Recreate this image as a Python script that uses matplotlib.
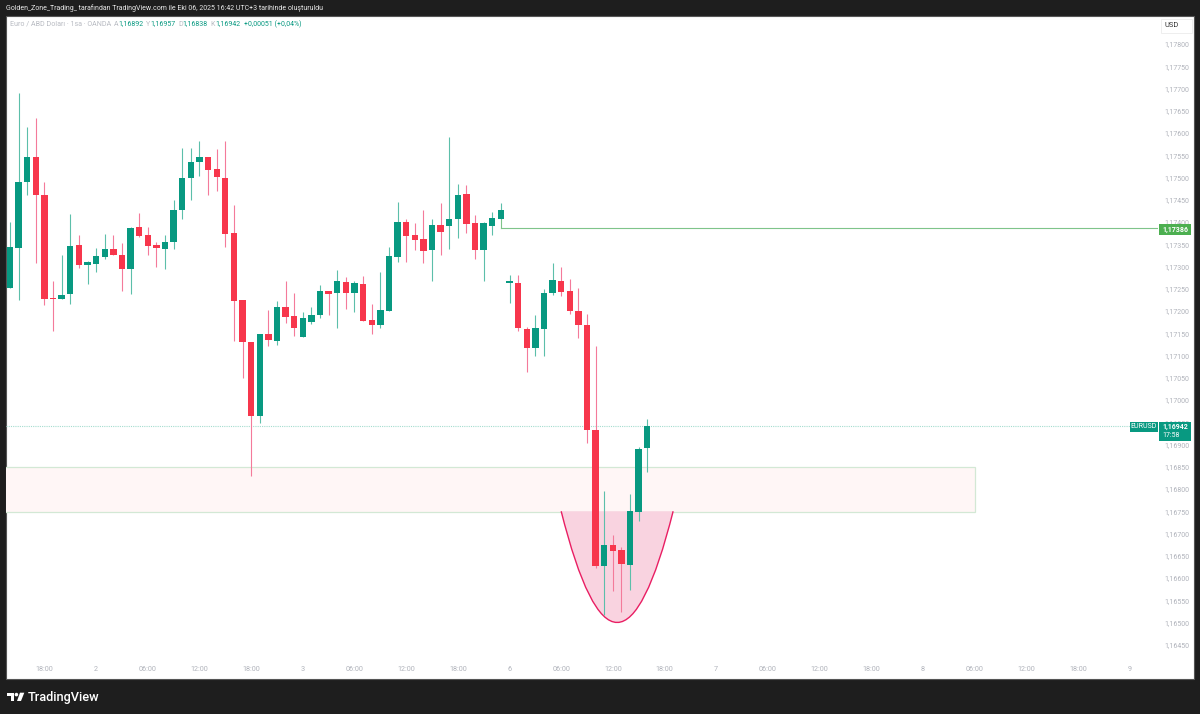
#!/usr/bin/env python3
"""EUR/USD 1h candles, TradingView snapshot"""

import matplotlib
matplotlib.use('Agg')
import matplotlib.pyplot as plt
from matplotlib.patches import Rectangle, PathPatch, Polygon, Circle
from matplotlib.path import Path
from matplotlib.transforms import Affine2D

plt.rcParams['font.family'] = ['Roboto', 'DejaVu Sans']

# OHLC
opens = [1.17252, 1.17342, 1.17489, 1.17547, 1.17461, 1.17229, 1.17227, 1.17238, 1.17348, 1.17303,
         1.17306, 1.17321, 1.17339, 1.17326, 1.17295, 1.17388, 1.17370, 1.17348, 1.17340, 1.17356,
         1.17427, 1.17498, 1.17536, 1.17547, 1.17519, 1.17500, 1.17375, 1.17224, 1.17131, 1.16963,
         1.17148, 1.17133, 1.17209, 1.17189, 1.17142, 1.17176, 1.17192, 1.17245, 1.17241, 1.17266,
         1.17241, 1.17260, 1.17179, 1.17169, 1.17201, 1.17321, 1.17400, 1.17370, 1.17362, 1.17338,
         1.17394, 1.17391, 1.17407, 1.17463, 1.17397, 1.17336, 1.17392, 1.17407, 1.17263, 1.17264,
         1.17160, 1.17117, 1.17160, 1.17240, 1.17267, 1.17245, 1.17201, 1.17169, 1.16933, 1.16626,
         1.16675, 1.16662, 1.16629, 1.16749, 1.16892]
highs = [1.17401, 1.17689, 1.17614, 1.17633, 1.17491, 1.17267, 1.17326, 1.17418, 1.17370, 1.17312,
         1.17341, 1.17373, 1.17370, 1.17352, 1.17389, 1.17420, 1.17388, 1.17356, 1.17370, 1.17449,
         1.17566, 1.17566, 1.17583, 1.17547, 1.17564, 1.17582, 1.17438, 1.17225, 1.17131, 1.17149,
         1.17202, 1.17222, 1.17267, 1.17240, 1.17198, 1.17210, 1.17258, 1.17245, 1.17292, 1.17276,
         1.17267, 1.17279, 1.17215, 1.17288, 1.17343, 1.17445, 1.17406, 1.17398, 1.17427, 1.17406,
         1.17443, 1.17592, 1.17485, 1.17483, 1.17416, 1.17400, 1.17422, 1.17443, 1.17282, 1.17281,
         1.17163, 1.17190, 1.17249, 1.17307, 1.17300, 1.17273, 1.17252, 1.17194, 1.17121, 1.16796,
         1.16697, 1.16670, 1.16789, 1.16895, 1.16957]
lows = [1.17252, 1.17225, 1.17461, 1.17309, 1.17214, 1.17154, 1.17227, 1.17215, 1.17297, 1.17261,
        1.17288, 1.17318, 1.17326, 1.17245, 1.17238, 1.17366, 1.17325, 1.17300, 1.17295, 1.17339,
        1.17407, 1.17449, 1.17504, 1.17461, 1.17470, 1.17343, 1.17133, 1.17049, 1.16830, 1.16949,
        1.17122, 1.17124, 1.17172, 1.17144, 1.17142, 1.17171, 1.17185, 1.17190, 1.17161, 1.17205,
        1.17197, 1.17178, 1.17148, 1.17161, 1.17201, 1.17311, 1.17311, 1.17337, 1.17309, 1.17268,
        1.17327, 1.17339, 1.17365, 1.17376, 1.17318, 1.17267, 1.17370, 1.17407, 1.17219, 1.17156,
        1.17063, 1.17100, 1.17100, 1.17236, 1.17233, 1.17194, 1.17139, 1.16903, 1.16623, 1.16517,
        1.16571, 1.16524, 1.16573, 1.16729, 1.16838]
closes = [1.17343, 1.17490, 1.17545, 1.17461, 1.17227, 1.17226, 1.17237, 1.17346, 1.17303, 1.17310,
          1.17324, 1.17339, 1.17327, 1.17295, 1.17387, 1.17369, 1.17346, 1.17342, 1.17354, 1.17428,
          1.17499, 1.17536, 1.17547, 1.17518, 1.17502, 1.17374, 1.17223, 1.17131, 1.16963, 1.17149,
          1.17134, 1.17210, 1.17187, 1.17162, 1.17184, 1.17190, 1.17246, 1.17239, 1.17267, 1.17241,
          1.17263, 1.17178, 1.17169, 1.17202, 1.17324, 1.17401, 1.17369, 1.17360, 1.17335, 1.17393,
          1.17378, 1.17406, 1.17460, 1.17396, 1.17338, 1.17397, 1.17408, 1.17428, 1.17267, 1.17161,
          1.17117, 1.17161, 1.17240, 1.17269, 1.17243, 1.17200, 1.17169, 1.16933, 1.16626, 1.16675,
          1.16661, 1.16632, 1.16750, 1.16889, 1.16942]

# axes labels
time_pos = [4, 10, 16, 22, 28, 34, 40, 46, 52, 58, 64, 70, 76, 82, 88, 94, 100, 106, 112, 118, 124, 130]
time_labels = ['18:00', '2', '06:00', '12:00', '18:00', '3', '06:00', '12:00', '18:00', '6', '06:00',
               '12:00', '18:00', '7', '06:00', '12:00', '18:00', '8', '06:00', '12:00', '18:00', '9']
price_ticks = [1.17800, 1.17750, 1.17700, 1.17650, 1.17600, 1.17550, 1.17500, 1.17450, 1.17400, 1.17350,
               1.17300, 1.17250, 1.17200, 1.17150, 1.17100, 1.17050, 1.17000, 1.16950, 1.16900, 1.16850,
               1.16800, 1.16750, 1.16700, 1.16650, 1.16600, 1.16550, 1.16500, 1.16450]

# drawings
hline_price = 1.17386
hline_start = 57
last_price = 1.16942
zone_top, zone_bottom = 1.16850, 1.16748
zone_end = 112
arc_start, arc_end = 64, 77
arc_top, arc_ctrl = 1.16750, 1.16250

GREEN = '#089981'
RED = '#f7364c'
WICK_GREEN = '#5cbfaa'
WICK_RED = '#f47a9a'
BG = '#1e1e1e'
TICK = '#b0b3bb'


def fmt_price(p):
    return f'{p:.5f}'.replace('.', ',')


fig = plt.figure(figsize=(12, 7.14), dpi=100, facecolor=BG)
# pixel coords, y down
px = Affine2D().scale(1 / 1200, -1 / 714).translate(0, 1) + fig.transFigure

fig.add_artist(Rectangle((6, 16), 1188, 663, transform=px, facecolor='white',
                         edgecolor='#555555', linewidth=0.8, zorder=-1))

ax = fig.add_axes([6 / 1200, 1 - 679 / 714, 1152 / 1200, 663 / 714])
ax.patch.set_visible(False)
ax.set_xlim(-0.464, 133.3)
ax.set_ylim(1.16373, 1.17863)
for s in ax.spines.values():
    s.set_visible(False)

ax.set_xticks(time_pos)
ax.set_xticklabels(time_labels)
ax.set_yticks(price_ticks)
ax.set_yticklabels([fmt_price(p) for p in price_ticks])
ax.yaxis.tick_right()
ax.tick_params(axis='x', length=0, pad=-9.5, labelsize=5.2, labelcolor=TICK)
ax.tick_params(axis='y', length=0, pad=4.3, labelsize=5.0, labelcolor=TICK)

# demand zone
ax.add_patch(Rectangle((-1, zone_bottom), zone_end + 1, zone_top - zone_bottom,
                       facecolor='#fff6f6', edgecolor='#d3e8d5', linewidth=0.9, zorder=1))

# arc
arc_mid = (arc_start + arc_end) / 2
verts = [(arc_start, arc_top), (arc_mid, arc_ctrl), (arc_end, arc_top)]
ax.add_patch(PathPatch(Path(verts, [Path.MOVETO, Path.CURVE3, Path.CURVE3]),
                       facecolor='#f9d3e0', edgecolor='none', zorder=1.5))
ax.add_patch(PathPatch(Path(verts, [Path.MOVETO, Path.CURVE3, Path.CURVE3]),
                       facecolor='none', edgecolor='#e91e63', linewidth=1.0, zorder=1.6))

# horizontal ray + last price line
ax.plot([hline_start, hline_start], [hline_price, 1.17407], color='#7fc48a', linewidth=0.8, zorder=1.8)
ax.plot([hline_start, 133.3], [hline_price, hline_price], color='#7fc48a', linewidth=0.8, zorder=1.8)
ax.axhline(last_price, color='#a5dccf', linewidth=0.8, linestyle=(0, (1, 1)), zorder=1.8)

# candles
for i, (o, h, l, c) in enumerate(zip(opens, highs, lows, closes)):
    up = c >= o
    ax.vlines(i, l, h, color=WICK_GREEN if up else WICK_RED, linewidth=0.8, zorder=2)
    ax.bar(i, abs(c - o), bottom=min(o, c), width=0.74, color=GREEN if up else RED,
           linewidth=0, zorder=3)

# price labels
fig.add_artist(Rectangle((1159, 224), 32, 10.5, transform=px, facecolor='#4caf50', zorder=2))
fig.text(1175, 229.5, fmt_price(hline_price), transform=px, color='white', fontsize=5.0,
         fontweight='bold', ha='center', va='center', zorder=3)
fig.add_artist(Rectangle((1130, 422), 27.5, 9.5, transform=px, facecolor=GREEN, zorder=2))
fig.text(1144, 427, 'EURUSD', transform=px, color='white', fontsize=5.0, ha='center', va='center', zorder=3)
fig.add_artist(Rectangle((1159, 421.5), 32, 19.5, transform=px, facecolor=GREEN, zorder=2))
fig.text(1175, 426.5, fmt_price(last_price), transform=px, color='white', fontsize=5.0,
         fontweight='bold', ha='center', va='center', zorder=3)
fig.text(1171, 435.5, '17:58', transform=px, color='white', fontsize=5.0, ha='center', va='center', zorder=3)

# USD button
fig.add_artist(Rectangle((1161, 18.5), 30.5, 14, transform=px, facecolor='white',
                         edgecolor='#eeeeee', linewidth=0.7, zorder=2))
fig.text(1172, 25.5, 'USD', transform=px, color='#333333', fontsize=5.4, ha='center', va='center', zorder=3)

# header
fig.text(6, 8, 'Golden_Zone_Trading_ tarafından TradingView.com ile Eki 06, 2025 16:42 UTC+3 tarihinde oluşturuldu',
         transform=px, color='#e8e8e8', fontsize=5.03, va='center')
fig.text(10, 24, 'Euro / ABD Doları · 1sa · OANDA', transform=px, color='#b8bbc2', fontsize=5.1, va='center')
legend_items = [(113.5, 'A', opens[-1]), (146, 'Y', highs[-1]), (178, 'D', lows[-1]), (210.5, 'K', closes[-1])]
for x, key, val in legend_items:
    fig.text(x, 24, key, transform=px, color='#b8bbc2', fontsize=5.0, va='center')
    fig.text(x + 4.7, 24, fmt_price(val), transform=px, color=GREEN, fontsize=5.0, va='center')
fig.text(243.5, 24, '+0,00051 (+0,04%)', transform=px, color=GREEN, fontsize=5.0, va='center')

# footer logo
fig.add_artist(Polygon([(7, 692.7), (14, 692.7), (14, 701), (10.5, 701), (10.5, 696), (7, 696)],
                       closed=True, transform=px, facecolor='white', edgecolor='none'))
fig.add_artist(Circle((16.4, 694.6), 1.8, transform=px, facecolor='white', edgecolor='none'))
fig.add_artist(Polygon([(20, 692.7), (24.3, 692.7), (21, 701), (17, 701)],
                       closed=True, transform=px, facecolor='white', edgecolor='none'))
fig.text(28, 697, 'TradingView', transform=px, color='white', fontsize=9.2, fontweight='medium', va='center')

fig.savefig('out.png', dpi=100, facecolor=BG)
